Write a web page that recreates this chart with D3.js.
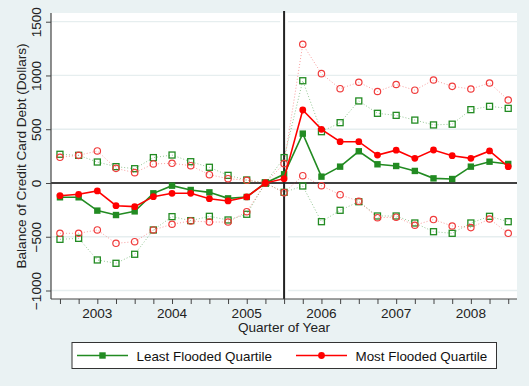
<!DOCTYPE html>
<html>
<head>
<meta charset="utf-8">
<script src="https://cdn.jsdelivr.net/npm/d3@7"></script>
<style>
  html, body { margin: 0; padding: 0; background: #eaf2f3; }
  svg { display: block; font-family: "Liberation Sans", Arial, sans-serif; }
</style>
</head>
<body>
<div id="chart"></div>
<script>
// ━━━━━━━━━━━━━━━━━━━━━━━━━━━━━━━━━━━━━━━━━━━━━━━━━━━━━━━━━━━━━━━━━━━━━━━━━━━━━━
// Data: quarters 2002q3 .. 2008q3 //////////////////////////////////////////////
// ━━━━━━━━━━━━━━━━━━━━━━━━━━━━━━━━━━━━━━━━━━━━━━━━━━━━━━━━━━━━━━━━━━━━━━━━━━━━━━

const quarters = d3.range(25);               // 0 = 2002q3
const year_ticks = [2, 6, 10, 14, 18, 22];   // q1 of each year
const year_labels = ['2003', '2004', '2005', '2006', '2007', '2008'];
const event_quarter = 12;                    // 2005q3

const least    = [-133, -133, -257, -298, -264, -96, -25, -65, -87, -143, -130, 0, 81, 459, 59, 152, 295, 174, 158, 112, 43, 37, 152, 198, 177];
const least_hi = [267, 257, 195, 152, 133, 236, 260, 198, 146, 71, 28, 0, 236, 951, 477, 561, 763, 648, 629, 585, 540, 547, 682, 713, 694];
const least_lo = [-524, -515, -716, -747, -663, -437, -313, -350, -310, -344, -291, 0, -87, -28, -360, -254, -174, -307, -307, -372, -453, -468, -372, -310, -360];

const most    = [-118, -105, -74, -211, -220, -127, -96, -96, -146, -167, -130, 0, 40, 679, 499, 384, 384, 260, 305, 229, 307, 254, 229, 298, 152];
const most_hi = [239, 257, 298, 136, 96, 177, 183, 161, 77, 40, 25, 0, 180, 1290, 1017, 877, 937, 851, 916, 863, 958, 899, 874, 930, 772];
const most_lo = [-468, -468, -437, -561, -546, -437, -384, -353, -363, -363, -267, 0, -90, 68, -25, -109, -170, -323, -318, -393, -340, -400, -415, -335, -468];

const series_names = ['Least Flooded Quartile', 'Most Flooded Quartile'];

// ━━━━━━━━━━━━━━━━━━━━━━━━━━━━━━━━━━━━━━━━━━━━━━━━━━━━━━━━━━━━━━━━━━━━━━━━━━━━━━
// SVG setup ////////////////////////////////////////////////////////////////////
// ━━━━━━━━━━━━━━━━━━━━━━━━━━━━━━━━━━━━━━━━━━━━━━━━━━━━━━━━━━━━━━━━━━━━━━━━━━━━━━

const width = 529, height = 386;
const plot = { left: 51, right: 517, top: 13, bottom: 299 };
const green = '#228b22', red = '#ff0000';

const svg = d3.select('#chart').append('svg')
  .attr('viewBox', [0, 0, width, height])
  .attr('width', width)
  .attr('height', height);

svg.append('rect').attr('width', width).attr('height', height).attr('fill', '#eaf2f3');
svg.append('rect')
  .attr('x', plot.left).attr('y', plot.top)
  .attr('width', plot.right - plot.left).attr('height', plot.bottom - plot.top)
  .attr('fill', '#fff');

const x = d3.scaleLinear().domain([-0.48, 24.47]).range([plot.left, plot.right]);
const y = d3.scaleLinear().domain([-1079, 1581]).range([plot.bottom, plot.top]);

const            grid = svg.append('g').attr('id', 'grid');
const       bands     = svg.append('g').attr('id', 'bandas');
const       estimates = svg.append('g').attr('id', 'estimaciones');
const          axes   = svg.append('g').attr('id', 'ejes');
const         legend  = svg.append('g').attr('id', 'leyenda');

// Grid + reference lines ////////////////////////////////////////////////////////

grid.selectAll('line.grid')
  .data([-1000, -500, 500, 1000, 1500])
  .join('line')
  .attr('class', 'grid')
  .attr('x1', plot.left).attr('x2', plot.right)
  .attr('y1', d => y(d)).attr('y2', d => y(d))
  .attr('stroke', '#e6eeef')
  .attr('stroke-width', 1.3);

// gap in the grid around the event line
grid.append('rect')
  .attr('x', x(event_quarter) - 4).attr('y', plot.top)
  .attr('width', 8).attr('height', plot.bottom - plot.top)
  .attr('fill', '#fff');

grid.append('line')
  .attr('x1', plot.left).attr('x2', plot.right)
  .attr('y1', y(0)).attr('y2', y(0))
  .attr('stroke', '#000').attr('stroke-width', 1.5);

grid.append('line')
  .attr('x1', x(event_quarter)).attr('x2', x(event_quarter))
  .attr('y1', plot.top - 2).attr('y2', plot.bottom)
  .attr('stroke', '#222').attr('stroke-width', 2);

// ━━━━━━━━━━━━━━━━━━━━━━━━━━━━━━━━━━━━━━━━━━━━━━━━━━━━━━━━━━━━━━━━━━━━━━━━━━━━━━
// Series ///////////////////////////////////////////////////////////////////////
// ━━━━━━━━━━━━━━━━━━━━━━━━━━━━━━━━━━━━━━━━━━━━━━━━━━━━━━━━━━━━━━━━━━━━━━━━━━━━━━

const line = d3.line().x((d, i) => x(quarters[i])).y(d => y(d));

function drawBand(values, color, shape) {
  bands.append('path')
    .attr('d', line(values))
    .attr('fill', 'none')
    .attr('stroke', color)
    .attr('stroke-opacity', 0.55)
    .attr('stroke-width', 0.9)
    .attr('stroke-dasharray', '1,2');

  const g = bands.append('g');
  if (shape === 'square') {
    g.selectAll('rect')
      .data(values)
      .join('rect')
      .attr('x', (d, i) => x(quarters[i]) - 3)
      .attr('y', d => y(d) - 3)
      .attr('width', 6).attr('height', 6)
      .attr('fill', 'none')
      .attr('stroke', color)
      .attr('stroke-width', 1.3);
  } else {
    g.selectAll('circle')
      .data(values)
      .join('circle')
      .attr('cx', (d, i) => x(quarters[i]))
      .attr('cy', d => y(d))
      .attr('r', 3.2)
      .attr('fill', 'none')
      .attr('stroke', color)
      .attr('stroke-width', 1.2);
  }
}

drawBand(least_hi, green, 'square');
drawBand(least_lo, green, 'square');
drawBand(most_hi, '#f03c3c', 'circle');
drawBand(most_lo, '#f03c3c', 'circle');

function drawEstimate(values, color, shape) {
  estimates.append('path')
    .attr('d', line(values))
    .attr('fill', 'none')
    .attr('stroke', color)
    .attr('stroke-width', 1.6);

  const g = estimates.append('g').attr('fill', color);
  if (shape === 'square') {
    g.selectAll('rect')
      .data(values)
      .join('rect')
      .attr('x', (d, i) => x(quarters[i]) - 3.2)
      .attr('y', d => y(d) - 3.2)
      .attr('width', 6.4).attr('height', 6.4);
  } else {
    g.selectAll('circle')
      .data(values)
      .join('circle')
      .attr('cx', (d, i) => x(quarters[i]))
      .attr('cy', d => y(d))
      .attr('r', 3.4);
  }
}

drawEstimate(least, green, 'square');
drawEstimate(most, red, 'circle');

// ━━━━━━━━━━━━━━━━━━━━━━━━━━━━━━━━━━━━━━━━━━━━━━━━━━━━━━━━━━━━━━━━━━━━━━━━━━━━━━
// Axes /////////////////////////////////////////////////////////////////////////
// ━━━━━━━━━━━━━━━━━━━━━━━━━━━━━━━━━━━━━━━━━━━━━━━━━━━━━━━━━━━━━━━━━━━━━━━━━━━━━━

const yAxis = axes.append('g')
  .attr('transform', `translate(${plot.left},0)`)
  .call(d3.axisLeft(y).tickValues([-1000, -500, 0, 500, 1000, 1500]).tickSize(5).tickFormat(''));
yAxis.select('.domain').attr('d', `M0,${plot.top}V${plot.bottom}`).attr('stroke', '#444').attr('stroke-width', 1.2);
yAxis.selectAll('.tick line').attr('stroke', '#444');

yAxis.selectAll('.tick')
  .append('text')
  .attr('transform', 'translate(-10.5,0) rotate(-90)')
  .attr('text-anchor', 'middle')
  .attr('fill', '#222')
  .attr('font-size', 13.6)
  .text(d => d3.format('')(d));

const xAxis = axes.append('g')
  .attr('transform', `translate(0,${plot.bottom})`)
  .call(d3.axisBottom(x).tickValues(quarters).tickSize(5).tickFormat(''));
xAxis.select('.domain').attr('d', `M${plot.left},0H${plot.right}`).attr('stroke', '#444').attr('stroke-width', 1.2);
xAxis.selectAll('.tick line').attr('stroke', '#444');

axes.append('g')
  .selectAll('text')
  .data(year_ticks)
  .join('text')
  .attr('x', d => x(d))
  .attr('y', 318)
  .attr('text-anchor', 'middle')
  .attr('fill', '#222')
  .attr('font-size', 13.6)
  .text((d, i) => year_labels[i]);

axes.append('text')
  .attr('x', (plot.left + plot.right) / 2)
  .attr('y', 332)
  .attr('text-anchor', 'middle')
  .attr('fill', '#222')
  .attr('font-size', 13.6)
  .text('Quarter of Year');

axes.append('text')
  .attr('transform', `translate(26,${(plot.top + plot.bottom) / 2}) rotate(-90)`)
  .attr('text-anchor', 'middle')
  .attr('fill', '#222')
  .attr('font-size', 13.6)
  .text('Balance of Credit Card Debt (Dollars)');

// ━━━━━━━━━━━━━━━━━━━━━━━━━━━━━━━━━━━━━━━━━━━━━━━━━━━━━━━━━━━━━━━━━━━━━━━━━━━━━━
// Legend ///////////////////////////////////////////////////////////////////////
// ━━━━━━━━━━━━━━━━━━━━━━━━━━━━━━━━━━━━━━━━━━━━━━━━━━━━━━━━━━━━━━━━━━━━━━━━━━━━━━

legend.append('rect')
  .attr('x', 72).attr('y', 342.5)
  .attr('width', 424.5).attr('height', 26)
  .attr('fill', '#fff')
  .attr('stroke', '#333')
  .attr('stroke-width', 1);

const legend_items = legend.selectAll('g.item')
  .data([
    { name: series_names[0], color: green, shape: 'square', x0: 77 },
    { name: series_names[1], color: red, shape: 'circle', x0: 296 }
  ])
  .join('g')
  .attr('class', 'item')
  .attr('transform', d => `translate(${d.x0},355.5)`);

legend_items.append('line')
  .attr('x1', 0).attr('x2', 51)
  .attr('stroke', d => d.color)
  .attr('stroke-width', 1.6);

legend_items.filter(d => d.shape === 'square')
  .append('rect')
  .attr('x', 22.3).attr('y', -3.2).attr('width', 6.4).attr('height', 6.4)
  .attr('fill', d => d.color);

legend_items.filter(d => d.shape === 'circle')
  .append('circle')
  .attr('cx', 25.5).attr('r', 3.4)
  .attr('fill', d => d.color);

legend_items.append('text')
  .attr('x', 59.5)
  .attr('y', 5)
  .attr('fill', '#111')
  .attr('font-size', 13.4)
  .text(d => d.name);
</script>
</body>
</html>
